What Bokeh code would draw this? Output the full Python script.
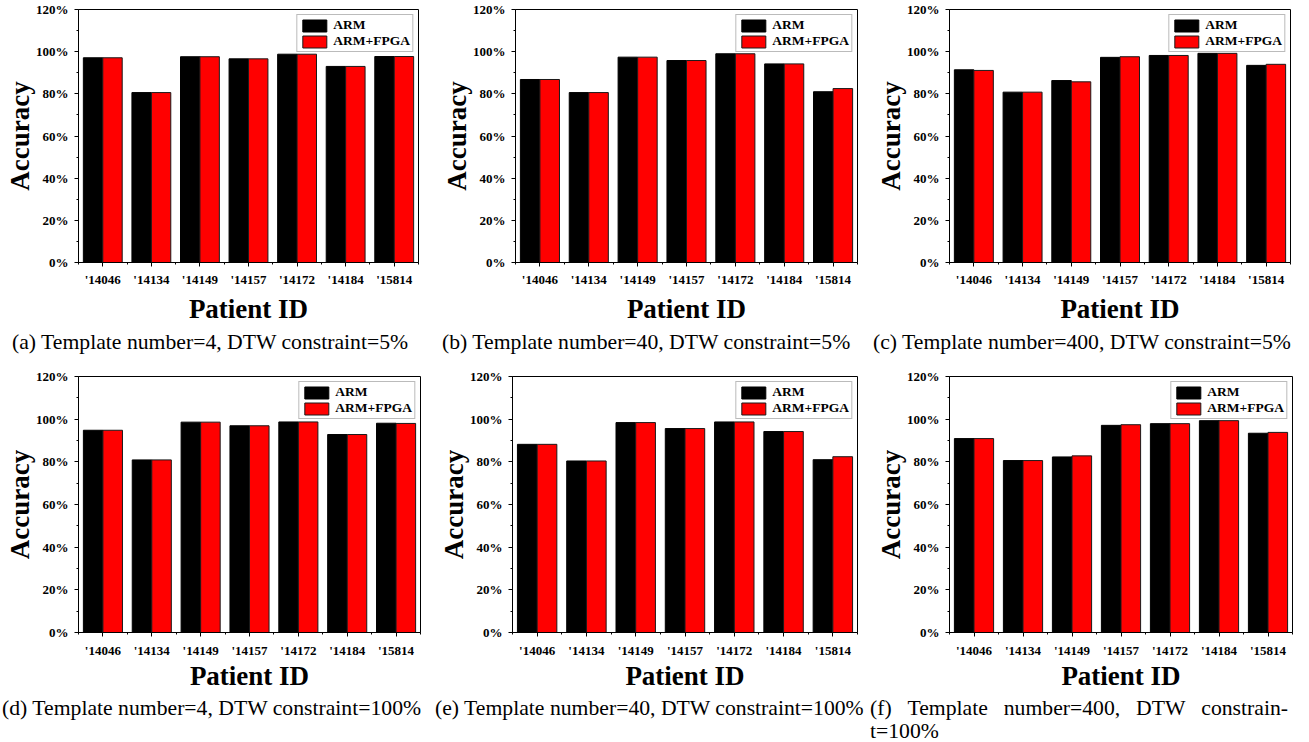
import numpy as np
from bokeh.plotting import figure
from bokeh.models import (FixedTicker, Range1d, Legend, LegendItem, Div,
                          PrintfTickFormatter, ColumnDataSource)
from bokeh.layouts import column, row
from bokeh.embed import file_html
from bokeh.resources import INLINE

patients = ["'14046", "'14134", "'14149", "'14157", "'14172", "'14184", "'15814"]
y_ticks = [0, 20, 40, 60, 80, 100, 120]
y_minor = [10, 30, 50, 70, 90, 110]
series_names = ["ARM", "ARM+FPGA"]

arm_a = [97.1, 80.6, 97.6, 96.6, 98.8, 93.0, 97.7]
fpga_a = [97.1, 80.6, 97.6, 96.6, 98.8, 93.0, 97.7]
arm_b = [86.8, 80.6, 97.4, 95.8, 99.0, 94.2, 81.0]
fpga_b = [86.8, 80.6, 97.4, 95.8, 99.0, 94.2, 82.5]
arm_c = [91.4, 80.8, 86.3, 97.3, 98.2, 99.2, 93.5]
fpga_c = [91.1, 80.8, 85.7, 97.6, 98.2, 99.2, 94.0]
arm_d = [94.8, 80.9, 98.6, 96.9, 98.7, 92.8, 98.1]
fpga_d = [94.8, 80.9, 98.6, 96.9, 98.7, 92.8, 98.0]
arm_e = [88.2, 80.4, 98.4, 95.6, 98.7, 94.2, 81.0]
fpga_e = [88.2, 80.4, 98.4, 95.6, 98.7, 94.2, 82.4]
arm_f = [90.9, 80.6, 82.3, 97.1, 97.9, 99.3, 93.4]
fpga_f = [90.9, 80.6, 82.8, 97.4, 97.9, 99.3, 93.8]

captions_top = ["(a) Template number=4, DTW constraint=5%",
                "(b) Template number=40, DTW constraint=5%",
                "(c) Template number=400, DTW constraint=5%"]
captions_bottom = ["(d) Template number=4, DTW constraint=100%",
                   "(e) Template number=40, DTW constraint=100%"]
caption_f_line1 = ["(f)", "Template", "number=400,", "DTW", "constrain-"]
caption_f_line2 = "t=100%"

SERIF = "Times New Roman, Liberation Serif, serif"


def make_fig(arm, fpga, left, fw, right, top, fh, bottom, xl_stand, xa_stand):
    n = len(patients)
    centers = np.arange(n) + 0.5
    p = figure(frame_width=fw, frame_height=fh,
               x_range=Range1d(0, n), y_range=Range1d(0, 120),
               output_backend="svg", toolbar_location=None,
               min_border_left=left, min_border_right=right,
               min_border_top=top, min_border_bottom=bottom)
    src = ColumnDataSource(dict(xa=centers - 0.2, xf=centers + 0.2,
                                arm=arm, fpga=fpga))
    r1 = p.vbar(x="xa", top="arm", width=0.4, source=src,
                fill_color="black", line_color="black", line_width=1)
    r2 = p.vbar(x="xf", top="fpga", width=0.4, source=src,
                fill_color="#ff0000", line_color="#1a1a1a", line_width=1)
    p.xgrid.visible = False
    p.ygrid.visible = False
    p.outline_line_color = "black"
    p.outline_line_width = 1
    p.outline_line_alpha = 1

    p.xaxis.ticker = FixedTicker(ticks=list(centers),
                                 minor_ticks=list(range(0, n + 1)))
    p.xaxis.major_label_overrides = {float(c): lab for c, lab in zip(centers, patients)}
    p.yaxis.ticker = FixedTicker(ticks=y_ticks, minor_ticks=y_minor)
    p.yaxis.formatter = PrintfTickFormatter(format="%d%%")

    for ax in (p.xaxis[0], p.yaxis[0]):
        ax.axis_line_color = "black"
        ax.axis_line_width = 1
        ax.major_tick_line_color = "black"
        ax.minor_tick_line_color = "black"
        ax.major_tick_in = 0
        ax.major_tick_out = 4
        ax.minor_tick_in = 0
        ax.minor_tick_out = 2
        ax.major_label_text_font = SERIF
        ax.major_label_text_font_style = "bold"
        ax.major_label_text_font_size = "13px"
        ax.major_label_text_color = "black"
        ax.axis_label_text_font = SERIF
        ax.axis_label_text_font_style = "bold"
        ax.axis_label_text_color = "black"
    p.xaxis.axis_label = "Patient ID"
    p.xaxis.axis_label_text_font_size = "27px"
    p.xaxis.major_label_standoff = xl_stand
    p.xaxis.axis_label_standoff = xa_stand
    p.yaxis.axis_label = "Accuracy"
    p.yaxis.axis_label_text_font_size = "27px"
    p.yaxis.major_label_standoff = 6
    p.yaxis.axis_label_standoff = -2

    legend = Legend(items=[LegendItem(label=series_names[0], renderers=[r1]),
                           LegendItem(label=series_names[1], renderers=[r2])],
                    location="top_right")
    legend.label_text_font = SERIF
    legend.label_text_font_style = "bold"
    legend.label_text_font_size = "13.5px"
    legend.label_text_color = "black"
    legend.glyph_width = 30
    legend.glyph_height = 15
    legend.label_height = 15
    legend.label_standoff = 4
    legend.spacing = 0
    legend.padding = 2
    legend.margin = 5
    legend.border_line_color = "#777777"
    legend.border_line_width = 1
    legend.background_fill_color = "white"
    legend.background_fill_alpha = 1
    p.add_layout(legend)
    return p


# left border, frame width, right border, top border, frame height, bottom border
fa = make_fig(arm_a, fpga_a, 78, 340, 19, 9, 253, 66, 5, 4)
fb = make_fig(arm_b, fpga_b, 78, 342, 14, 9, 253, 66, 5, 4)
fc = make_fig(arm_c, fpga_c, 78, 341, 10, 9, 253, 66, 5, 4)
fd = make_fig(arm_d, fpga_d, 78, 342, 14, 18, 256, 66, 6, 0)
fe = make_fig(arm_e, fpga_e, 78, 345, 14, 18, 256, 66, 6, 0)
ff = make_fig(arm_f, fpga_f, 78, 343, 8, 18, 256, 66, 6, 0)

base = ("font-family:'Liberation Serif','Times New Roman',serif;font-size:21.7px;"
        "line-height:22px;color:black;white-space:nowrap;position:absolute;")

top_left = [12, 442, 873]
html1 = "<div style='position:relative;width:1300px;height:30px;overflow:visible;'>"
for cap, lx in zip(captions_top, top_left):
    html1 += f"<span style=\"{base}left:{lx}px;top:3px;\">{cap}</span>"
html1 += "</div>"

bot_left = [2, 435]
html2 = "<div style='position:relative;width:1300px;height:40px;overflow:visible;'>"
for cap, lx in zip(captions_bottom, bot_left):
    html2 += f"<span style=\"{base}left:{lx}px;top:-1px;\">{cap}</span>"
words = "".join(f"<span>{w}</span>" for w in caption_f_line1)
html2 += (f"<div style=\"{base}left:870px;top:-1px;width:418px;display:flex;"
          f"justify-content:space-between;\">{words}</div>")
html2 += (f"<span style=\"{base}left:870px;top:22px;\">"
          f"{caption_f_line2}</span>")
html2 += "</div>"

d1 = Div(text=html1, width=1300, height=30, margin=0,
         styles={"overflow": "visible"})
d2 = Div(text=html2, width=1300, height=40, margin=0,
         styles={"overflow": "visible"})

layout = column(row(fa, fb, fc), d1, row(fd, fe, ff), d2)

open("out.html", "w").write(file_html(layout, INLINE))
